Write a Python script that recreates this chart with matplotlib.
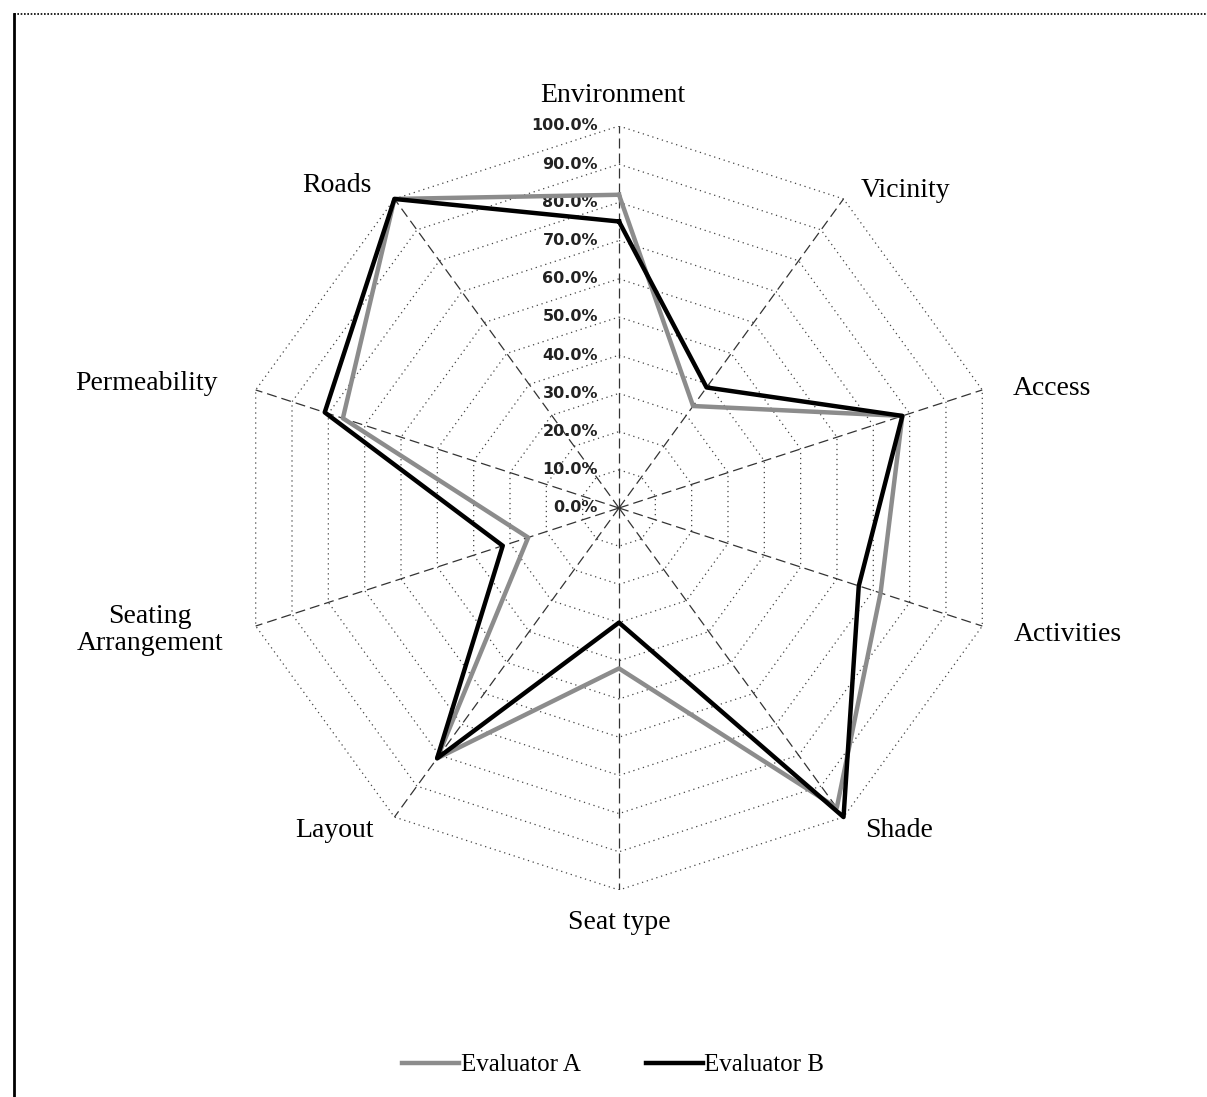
import numpy as np
import matplotlib
matplotlib.use('Agg')
import matplotlib.pyplot as plt
from matplotlib.lines import Line2D

# categories, clockwise from the top
categories = ['Environment', 'Vicinity', 'Access', 'Activities', 'Shade',
              'Seat type', 'Layout', 'Seating\nArrangement', 'Permeability', 'Roads']
# scores in percent
evaluator_a = [82, 33, 78, 72, 97, 42, 81, 25, 76, 100]
evaluator_b = [75, 39, 78, 66, 100, 30, 81, 32, 81, 100]
ring_levels = [10, 20, 30, 40, 50, 60, 70, 80, 90, 100]
tick_labels = ['0.0%', '10.0%', '20.0%', '30.0%', '40.0%', '50.0%',
               '60.0%', '70.0%', '80.0%', '90.0%', '100.0%']

n = len(categories)
theta = np.arange(n) * 2 * np.pi / n  # clockwise from top


def to_xy(vals):
    r = np.asarray(vals, dtype=float) / 100.0
    x = r * np.sin(theta)
    y = r * np.cos(theta)
    # close the polygon
    return np.append(x, x[0]), np.append(y, y[0])


fig = plt.figure(figsize=(12.07, 10.97), dpi=100)
ax = fig.add_axes([0.19635, 0.18870, 0.63297, 0.69645])
ax.set_xlim(-1, 1)
ax.set_ylim(-1, 1)
ax.set_aspect('equal')
ax.axis('off')

serif = 'Liberation Serif'

# grid rings (dotted)
for lvl in ring_levels:
    gx, gy = to_xy([lvl] * n)
    ax.plot(gx, gy, color='#444444', lw=0.9, ls=(0, (1, 3)), zorder=1)

# spokes (dashed)
for t in theta:
    ax.plot([0, np.sin(t)], [0, np.cos(t)], color='#333333', lw=0.9,
            ls=(0, (8, 4)), zorder=1)

# tick labels along the top axis
for i, lab in enumerate(tick_labels):
    ax.text(-0.055, i / 10.0, lab, ha='right', va='center', fontsize=11.5,
            fontweight='bold', family='DejaVu Sans', color='#222222')

# series
xa, ya = to_xy(evaluator_a)
xb, yb = to_xy(evaluator_b)
ax.plot(xa, ya, color='#8c8c8c', lw=3.2, zorder=3, label='Evaluator A')
ax.plot(xb, yb, color='black', lw=3.2, zorder=4, label='Evaluator B')

# category labels
label_pos = [(-0.016, 1.081), (0.749, 0.832), (1.134, 0.314), (1.175, -0.330),
             (0.733, -0.843), (0.0, -1.086), (-0.746, -0.843), (-1.228, -0.319),
             (-1.238, 0.325), (-0.738, 0.843)]
for lab, (lx, ly) in zip(categories, label_pos):
    ax.text(lx, ly, lab, ha='center', va='center', fontsize=20, family=serif,
            linespacing=1.1, clip_on=False)

# legend
handles = [Line2D([], [], color='#8c8c8c', lw=3.2),
           Line2D([], [], color='black', lw=3.2)]
fig.legend(handles, ['Evaluator A', 'Evaluator B'], loc='center',
           bbox_to_anchor=(0.508, 0.029), ncol=2, frameon=False,
           prop={'family': serif, 'size': 18}, handlelength=2.3,
           handletextpad=0.05, columnspacing=2.6)

# page border (top dotted, left solid)
fig.add_artist(Line2D([0.0116, 1.0], [0.9872, 0.9872], transform=fig.transFigure,
                      color='black', lw=1.2, ls=(0, (1, 1))))
fig.add_artist(Line2D([0.0116, 0.0116], [0.0, 0.9872], transform=fig.transFigure,
                      color='black', lw=2.0))

fig.savefig('out.png', dpi=100)
